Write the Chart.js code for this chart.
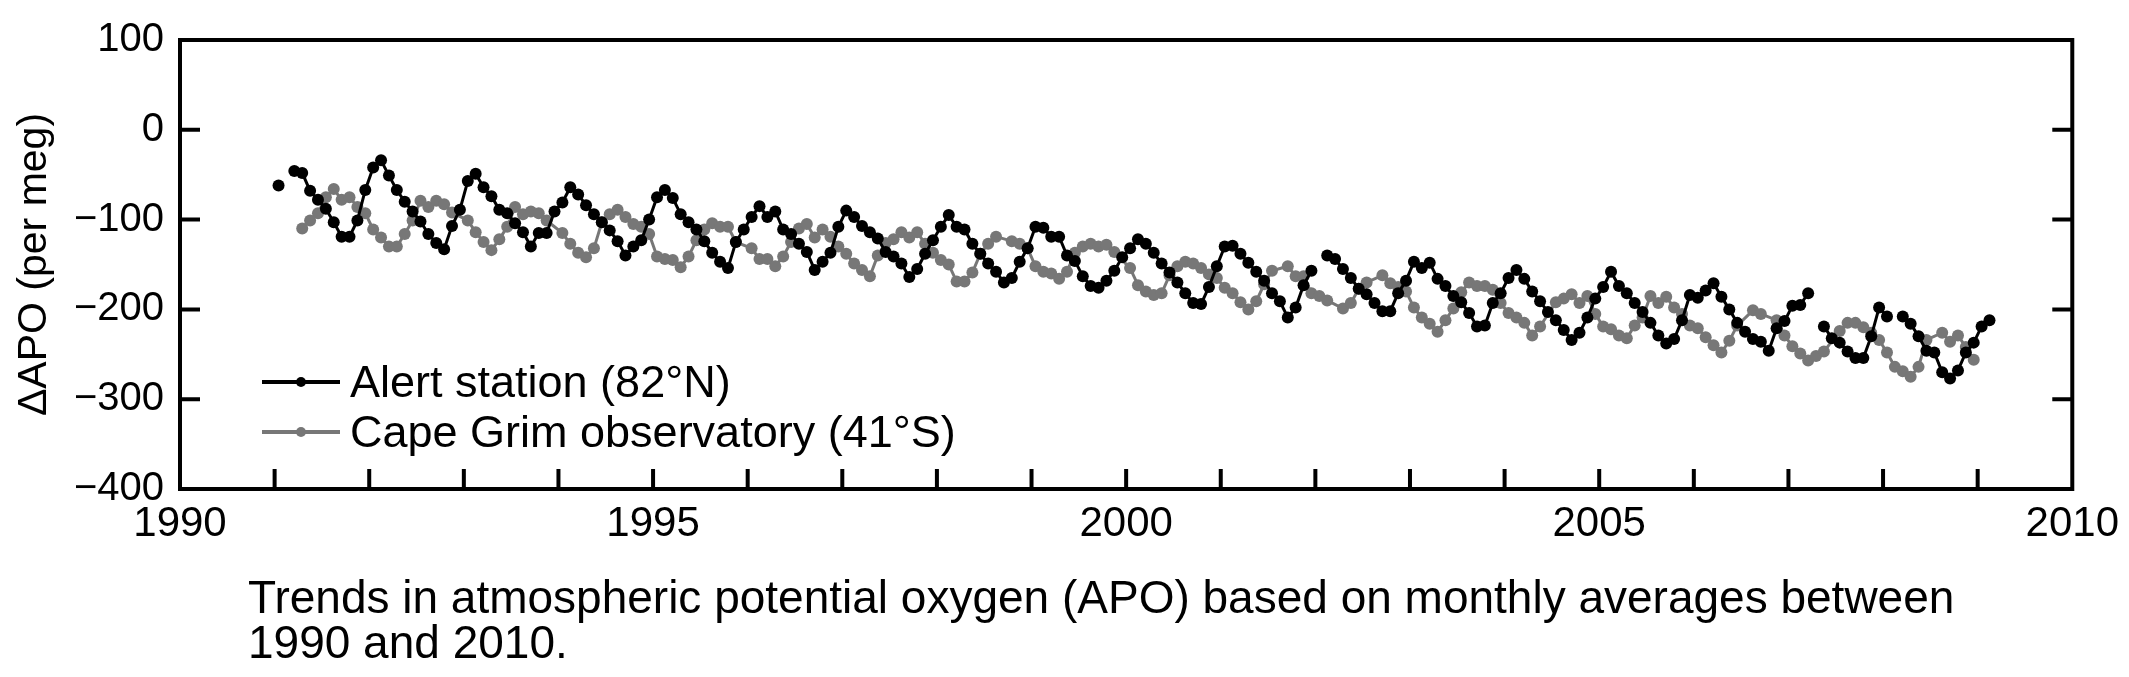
<!DOCTYPE html>
<html>
<head>
<meta charset="utf-8">
<script src="https://cdn.jsdelivr.net/npm/chart.js@4.4.1/dist/chart.umd.min.js"></script>
<style>
  html, body { margin: 0; padding: 0; background: #fff; }
  #wrap { position: relative; width: 2129px; height: 677px; font-family: "Liberation Sans", Arial, Helvetica, sans-serif; }
  #apoChart { position: absolute; left: 0; top: 0; }
  .leg { position: absolute; left: 262px; height: 50px; display: flex; align-items: center; font-size: 45px; color: #000; white-space: nowrap; }
  .leg .swatch { position: relative; width: 78px; height: 4px; margin-right: 10px; }
  .leg .swatch i { position: absolute; left: 34px; top: -3px; width: 10px; height: 10px; border-radius: 50%; background: inherit; }
  #caption { position: absolute; left: 248px; top: 575px; font-size: 46px; line-height: 45px; color: #000; }
</style>
</head>
<body>
<div id="wrap">
  <canvas id="apoChart" width="2129" height="677"></canvas>
  <div class="leg" style="top:357px"><span class="swatch" style="background:#000"><i></i></span>Alert station (82°N)</div>
  <div class="leg" style="top:407px"><span class="swatch" style="background:#777"><i></i></span>Cape Grim observatory (41°S)</div>
  <div id="caption">Trends in atmospheric potential oxygen (APO) based on monthly averages between<br>1990 and 2010.</div>
</div>
<script>
// monthly averages, Jan..Dec, first year 1991 (null = no value that month)
const alertStartYear = 1991;
const alertValues = [
  -62, null, -46, -48, -68, -78, -88, -103, -119, -119, -101, -67,
  -42, -34, -51, -67, -80, -91, -102, -116, -126, -133, -107, -89,
  -57, -49, -64, -74, -89, -93, -104, -114, -130, -115, -115, -91,
  -81, -64, -72, -84, -94, -103, -112, -124, -140, -130, -123, -100,
  -75, -67, -76, -94, -103, -111, -124, -137, -147, -154, -125, -111,
  -97, -85, -97, -91, -111, -116, -127, -136, -156, -147, -137, -108,
  -90, -97, -107, -114, -121, -136, -141, -149, -164, -155, -138, -123,
  -108, -95, -108, -111, -127, -138, -149, -158, -170, -165, -147, -132,
  -108, -109, -119, -119, -140, -146, -163, -174, -176, -168, -157, -142,
  -132, -122, -127, -137, -149, -159, -170, -182, -193, -194, -175, -152,
  -130, -129, -138, -148, -158, -168, -182, -191, -209, -198, -173, -157,
  null, -140, -144, -155, -165, -177, -183, -193, -202, -202, -182, -168,
  -147, -154, -148, -166, -174, -185, -192, -204, -219, -218, -193, -182,
  -165, -156, -166, -180, -191, -203, -212, -223, -234, -226, -209, -188,
  -175, -158, -174, -182, -193, -203, -215, -229, -238, -233, -212, -184,
  -187, -179, -171, -186, -200, -215, -225, -233, -236, -246, -221, -213,
  -196, -195, -182, null, -219, -232, -237, -247, -254, -254, -230, -198,
  -208, null, -208, -216, -230, -246, -248, -270, -277, -268, -248, -237,
  -219, -212
];

const capeGrimStartYear = 1991;
const capeGrimValues = [
  null, null, null, -110, -101, -93, -75, -66, -78, -75, -86, -93,
  -111, -120, -130, -130, -116, -101, -79, -86, -79, -83, -92, null,
  -101, -114, -125, -134, -122, -108, -86, -94, -91, -93, -101, null,
  -115, -127, -137, -142, -132, -103, -94, -89, -97, -105, -108, -116,
  -141, -144, -145, -153, -141, -123, -111, -104, -108, -108, -125, null,
  -132, -144, -144, -152, -141, -125, -110, -105, -120, -111, -119, -130,
  -138, -149, -156, -163, -140, -126, -122, -114, -120, -114, -127, -137,
  -145, -150, -169, -169, -159, -138, -127, -119, null, -124, -127, -132,
  -152, -158, -160, -166, -158, -137, -130, -127, -130, -128, -136, null,
  -154, -173, -180, -184, -182, -162, -152, -147, -149, -154, -161, -165,
  -176, -182, -192, -200, -191, -172, -157, null, -152, -163, -163, -182,
  -185, -190, null, -199, -193, -177, -170, null, -162, -171, -175, -180,
  -198, -209, -216, -225, -212, -199, -181, -170, -174, -174, -178, -193,
  -204, -209, -215, -229, -219, null, -192, -188, -183, -193, -185, -205,
  -219, -222, -229, -232, -218, -209, -185, -193, -186, -198, -205, -218,
  -221, -231, -240, -248, -235, -218, null, -201, -205, null, -212, -229,
  -241, -249, -257, -252, -247, null, -224, -215, -215, -220, -226, -234,
  -248, -264, -269, -275, -264, -234, null, -226, -236, -229, -242, -256
];

const xLabelYears = [1990, 1995, 2000, 2005, 2010];
const yTicks = [100, 0, -100, -200, -300, -400];

const FONT = '"Liberation Sans", Arial, Helvetica, sans-serif';

function monthly(startYear, values) {
  return values.map((v, i) => ({ x: startYear + (i + 0.5) / 12, y: v }));
}

// box frame with inward ticks (left/right every 100, bottom every year)
const frameTicks = {
  id: 'frameTicks',
  afterDatasetsDraw(chart) {
    const { ctx, chartArea: a, scales } = chart;
    const len = 20;
    ctx.save();
    ctx.strokeStyle = '#000';
    ctx.lineWidth = 4;
    ctx.lineCap = 'butt';
    ctx.strokeRect(a.left, a.top, a.right - a.left, a.bottom - a.top);
    ctx.beginPath();
    yTicks.forEach(v => {
      const y = scales.y.getPixelForValue(v);
      ctx.moveTo(a.left, y); ctx.lineTo(a.left + len, y);
      ctx.moveTo(a.right, y); ctx.lineTo(a.right - len, y);
    });
    for (let yr = 1991; yr < 2010; yr++) {
      const x = scales.x.getPixelForValue(yr);
      ctx.moveTo(x, a.bottom); ctx.lineTo(x, a.bottom - len);
    }
    ctx.stroke();
    ctx.restore();
  }
};

const ctx = document.getElementById('apoChart').getContext('2d');

new Chart(ctx, {
  type: 'line',
  data: {
    datasets: [
      { label: 'Alert station (82°N)', data: monthly(alertStartYear, alertValues), borderColor: '#000', backgroundColor: '#000', pointBackgroundColor: '#000', borderWidth: 3, pointRadius: 6, pointBorderWidth: 0, tension: 0, spanGaps: false },
      { label: 'Cape Grim observatory (41°S)', data: monthly(capeGrimStartYear, capeGrimValues), borderColor: '#777', backgroundColor: '#777', pointBackgroundColor: '#777', borderWidth: 3, pointRadius: 6, pointBorderWidth: 0, tension: 0, spanGaps: true }
    ]
  },
  options: {
    responsive: false,
    devicePixelRatio: 1,
    animation: false,
    layout: { autoPadding: false, padding: { left: 0, right: 56, top: 34, bottom: 0 } },
    plugins: { legend: { display: false }, tooltip: { enabled: false } },
    scales: {
      x: {
        type: 'linear',
        min: 1990,
        max: 2010,
        afterFit: s => { s.height = 188; },
        afterBuildTicks: s => { s.ticks = xLabelYears.map(v => ({ value: v })); },
        ticks: { color: '#000', font: { family: FONT, size: 42 }, padding: 10, maxRotation: 0, callback: v => String(v) },
        grid: { display: false, drawTicks: false },
        border: { display: false }
      },
      y: {
        min: -400,
        max: 100,
        afterFit: s => { s.width = 180; },
        afterBuildTicks: s => { s.ticks = yTicks.map(v => ({ value: v })); },
        ticks: { color: '#000', font: { family: FONT, size: 40 }, padding: 16, callback: v => (v < 0 ? '\u2212' + Math.abs(v) : String(v)) },
        grid: { display: false, drawTicks: false },
        border: { display: false },
        title: { display: true, text: 'ΔAPO (per meg)', color: '#000', font: { family: FONT, size: 41 }, padding: { top: 10, bottom: 0 } }
      }
    }
  },
  plugins: [frameTicks]
});
</script>
</body>
</html>
